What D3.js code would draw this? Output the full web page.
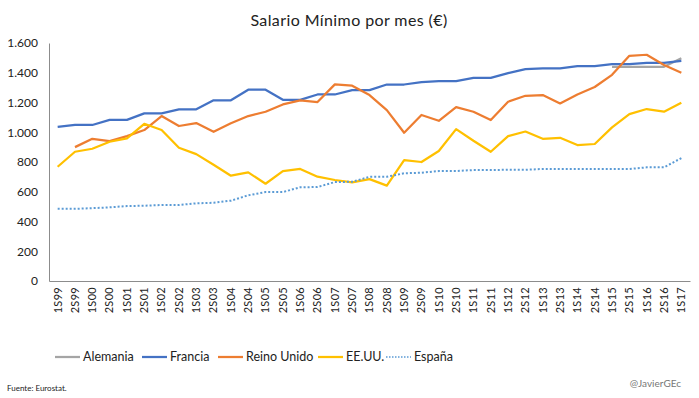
<!DOCTYPE html>
<html>
<head>
<meta charset="utf-8">
<script src="https://cdn.jsdelivr.net/npm/d3@7"></script>
<style>
  body { margin: 0; background: #fff; }
  svg { font-family: "Lato", "Open Sans", sans-serif; }
</style>
</head>
<body>
<svg width="699" height="398"></svg>
<script>
const periods = ["1S99","2S99","1S00","2S00","1S01","2S01","1S02","2S02","1S03","2S03",
  "1S04","2S04","1S05","2S05","1S06","2S06","1S07","2S07","1S08","2S08",
  "1S09","2S09","1S10","2S10","1S11","2S11","1S12","2S12","1S13","2S13",
  "1S14","2S14","1S15","2S15","1S16","2S16","1S17"];

const alemania = [null,null,null,null,null,null,null,null,null,null,
  null,null,null,null,null,null,null,null,null,null,
  null,null,null,null,null,null,null,null,null,null,
  null,null,1440,1440,1440,1440,1498];
const francia = [1036,1049,1049,1083,1083,1127,1127,1154,1154,1215,
  1215,1286,1286,1218,1218,1254,1254,1283,1283,1321,
  1321,1337,1343,1344,1365,1365,1398,1425,1430,1430,
  1445,1445,1458,1458,1467,1467,1480];
const reinoUnido = [null,900,956,941,974,1015,1109,1042,1062,1003,
  1060,1109,1138,1187,1214,1203,1322,1313,1250,1149,
  997,1116,1077,1169,1138,1082,1205,1245,1250,1194,
  1254,1304,1386,1514,1521,1452,1400];
const eeuu = [768,869,889,936,959,1057,1015,896,853,782,
  708,730,654,739,753,701,679,663,685,641,
  813,800,874,1021,943,869,974,1005,956,963,
  914,921,1033,1122,1156,1138,1198];
const espana = [485,485,490,495,504,506,511,511,522,526,
  540,576,598,598,630,632,665,667,700,701,
  724,728,739,739,746,746,748,748,753,753,
  753,753,753,753,764,764,826];

const yTicks = [0,200,400,600,800,1000,1200,1400,1600];

const series = [
  {name: "Alemania", values: alemania, color: "#A5A5A5", dash: null},
  {name: "Francia", values: francia, color: "#4472C4", dash: null},
  {name: "Reino Unido", values: reinoUnido, color: "#ED7D31", dash: null},
  {name: "EE.UU.", values: eeuu, color: "#FFC000", dash: null},
  {name: "España", values: espana, color: "#5B9BD5", dash: "2,2"}
];

const svg = d3.select("svg");
const fmt = d3.formatLocale({decimal: ",", thousands: ".", grouping: [3], currency: ["", "€"]}).format(",");

const x = d3.scaleBand().domain(periods).range([49, 690]).padding(0);
const y = d3.scaleLinear().domain([0, 1600]).range([281, 43]);
const cx = d => x(d) + x.bandwidth() / 2;

// title
svg.append("text")
  .attr("x", 349).attr("y", 26)
  .attr("text-anchor", "middle")
  .attr("font-size", 16).attr("letter-spacing", 0.4).attr("fill", "#222")
  .text("Salario Mínimo por mes (€)");

// y axis
const yAxis = svg.append("g")
  .attr("transform", "translate(49,0)")
  .call(d3.axisLeft(y).tickValues(yTicks).tickFormat(fmt).tickSize(0).tickPadding(11));
yAxis.select(".domain").attr("stroke", "#8c8c8c");
yAxis.selectAll("text").attr("font-size", 12).attr("fill", "#222").attr("font-family", "Lato");

// x axis
const xAxis = svg.append("g")
  .attr("transform", "translate(0,281)")
  .call(d3.axisBottom(x).tickSize(0).tickPadding(0));
xAxis.select(".domain").attr("stroke", "#8c8c8c");
xAxis.selectAll("text")
  .attr("font-size", 11).attr("fill", "#222").attr("font-family", "Lato")
  .attr("letter-spacing", 0.3)
  .attr("text-anchor", "end")
  .attr("dy", "0.35em")
  .attr("transform", "translate(0,6) rotate(-90)")
  .attr("x", 0).attr("y", 0);

// lines
const line = d3.line()
  .defined(d => d.v != null)
  .x(d => cx(d.p))
  .y(d => y(d.v));

series.forEach(s => {
  svg.append("path")
    .datum(periods.map((p, i) => ({p: p, v: s.values[i]})))
    .attr("fill", "none")
    .attr("stroke", s.color)
    .attr("stroke-width", s.dash ? 2 : 2.25)
    .attr("stroke-dasharray", s.dash)
    .attr("stroke-linejoin", "round")
    .attr("d", line);
});

// legend
const legendX = [55, 142, 218, 318, 386];
const legend = svg.append("g").attr("transform", "translate(0,357)");
series.forEach((s, i) => {
  const g = legend.append("g").attr("transform", "translate(" + legendX[i] + ",0)");
  g.append("line")
    .attr("x1", 0).attr("x2", 25).attr("y1", 0).attr("y2", 0)
    .attr("stroke", s.color)
    .attr("stroke-width", s.dash ? 1.5 : 2.25)
    .attr("stroke-dasharray", s.dash ? "1.5,1.5" : null);
  g.append("text")
    .attr("x", 28).attr("y", 0).attr("dy", "0.35em")
    .attr("font-size", 12.5).attr("fill", "#222")
    .text(s.name);
});

// footer
svg.append("text")
  .attr("x", 7).attr("y", 391)
  .attr("font-size", 8).attr("fill", "#222")
  .text("Fuente: Eurostat.");
svg.append("text")
  .attr("x", 681).attr("y", 387)
  .attr("text-anchor", "end")
  .attr("font-size", 10).attr("fill", "#777")
  .text("@JavierGEc");
</script>
</body>
</html>
